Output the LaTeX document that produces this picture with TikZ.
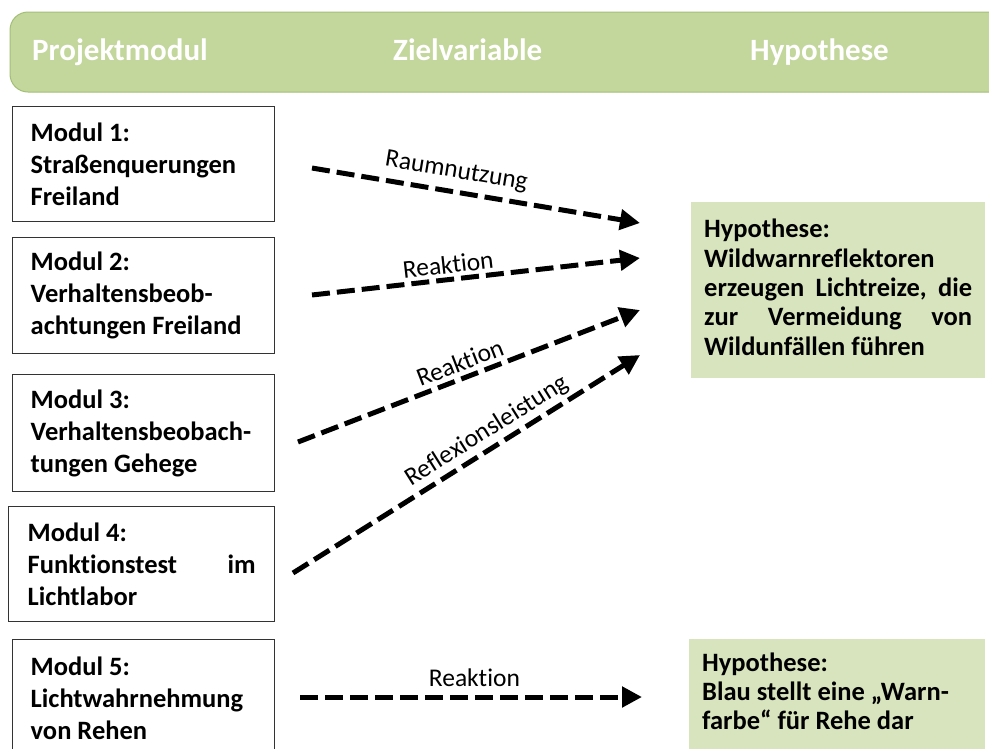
\documentclass[tikz,border=0pt]{standalone}
\usepackage{fontspec}
\setmainfont{Carlito}[Ligatures={NoCommon}]
\usetikzlibrary{arrows.meta}
\definecolor{headfill}{HTML}{C3D69B}
\definecolor{headline}{HTML}{A3BF76}
\definecolor{hypfill}{HTML}{D7E4BD}
\newcommand{\fullline}[1]{\leavevmode\hbox to \linewidth{#1}}
\tikzset{
  headtext/.style={anchor=base west, text=white, font={\fontsize{31}{36}\selectfont\bfseries}, inner sep=0pt},
  modbox/.style={draw=black!80, line width=1.4pt, anchor=north west, text width=226pt, inner xsep=18pt, inner ysep=0pt, align=flush left, minimum height=115pt, font={\fontsize{26.5}{32}\selectfont\bfseries}},
  hypbox/.style={fill=hypfill, anchor=north west, text width=268pt, inner xsep=13pt, inner ysep=0pt, align=flush left, font={\fontsize{26.5}{29.3}\selectfont\bfseries}},
  dasharrow/.style={line width=5pt, dash pattern=on 18pt off 7pt, -{Triangle[length=20pt,width=20pt]}},
  lbl/.style={sloped, anchor=center, inner sep=0pt, font={\fontsize{25.5}{28}\selectfont}}
}
\begin{document}
\begin{tikzpicture}[x=1pt,y=-1pt]
\useasboundingbox (0,0) rectangle (989,748);
\clip (0,0) rectangle (989,748);
% header
\draw[fill=headfill, draw=headline, line width=1pt, rounded corners=18pt] (10,12) rectangle (1030,92);
\node[headtext] (h1) at (32,60) {Projektmodul};
\node[headtext] (h2) at (393,60) {Zielvariable};
\node[headtext] (h3) at (750,60) {Hypothese};
% module boxes
\node[modbox] (m1) at (12,106) {Modul 1:\\Straßenquerungen\\Freiland};
\node[modbox, minimum height=116pt] (m2) at (12,237) {Modul 2:\\Verhaltensbeob-\\achtungen Freiland};
\node[modbox, minimum height=117pt] (m3) at (12,374) {Modul 3:\\Verhaltensbeobach-\\tungen Gehege};
\node[modbox, text width=228pt, inner xsep=19pt] (m4) at (8,506) {Modul 4:\\\fullline{Funktionstest\hfill im}\\Lichtlabor};
\node[modbox, minimum height=118pt] (m5) at (12,639) {Modul 5:\\Lichtwahrnehmung\\von Rehen};
% hypothesis boxes
\node[hypbox, minimum height=176pt] (hy1) at (691,202) {Hypothese:\\Wildwarnreflektoren\\\fullline{erzeugen\hfill Lichtreize,\hfill die}\\\fullline{zur\hfill Vermeidung\hfill von}\\Wildunfällen führen\vspace{6pt}};
\node[hypbox, minimum height=112pt, text width=270pt] (hy2) at (689,639) {Hypothese:\\Blau stellt eine „Warn-\\farbe“ für Rehe dar\vspace{8pt}};
% arrow end points
\coordinate (s1) at (312,168); \coordinate (e1) at (640,223);
\coordinate (s2) at (312,295); \coordinate (e2) at (640,258);
\coordinate (s3) at (298,442); \coordinate (e3) at (640,310);
\coordinate (s4) at (293,573); \coordinate (e4) at (640,355);
\coordinate (s5) at (300,697); \coordinate (e5) at (642,697);
\draw[dasharrow] (s1) -- (e1) node[lbl, pos=0.43, yshift=20pt] (l1) {Raumnutzung};
\draw[dasharrow] (s2) -- (e2) node[lbl, pos=0.42, yshift=15pt] (l2) {Reaktion};
\draw[dasharrow] (s3) -- (e3) node[lbl, pos=0.49, yshift=16pt] (l3) {Reaktion};
\draw[dasharrow] (s4) -- (e4) node[lbl, pos=0.585, yshift=17pt] (l4) {Reflexionsleistung};
\draw[dasharrow] (s5) -- (e5) node[lbl, pos=0.51, yshift=19pt] (l5) {Reaktion};
\end{tikzpicture}
\end{document}
